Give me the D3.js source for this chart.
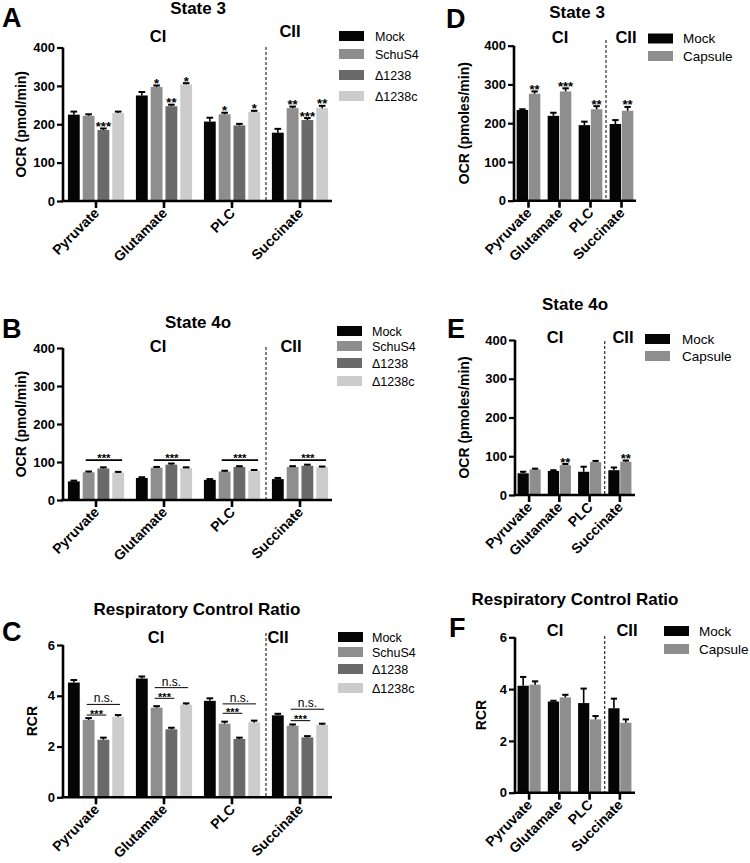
<!DOCTYPE html>
<html><head><meta charset="utf-8">
<script src="https://cdn.jsdelivr.net/npm/d3@7"></script>
<style>
body{margin:0;background:#fff}
svg{display:block}
text{font-family:"Liberation Sans",Arial,Helvetica,sans-serif}
</style>
</head><body>
<svg id="chart" width="750" height="863"></svg>
<script>
// ---------- data ----------
const categories = ["Pyruvate","Glutamate","PLC","Succinate"];
const seriesLeft = ["Mock","SchuS4","Δ1238","Δ1238c"];
const seriesRight = ["Mock","Capsule"];
const colorsLeft = ["#050505","#8e8e8e","#6a6a6a","#cccccc"];
const colorsRight = ["#050505","#8e8e8e"];
const ocrTicks = [0,100,200,300,400];
const rcrTicks = [0,2,4,6];

// A: State 3
const aMock = [225,275,207,178],   aMockErr = [8,9,10,10];
const aSchu = [222,297,226,242],   aSchuErr = [4,4,4,4];
const aD1238 = [185,247,197,211],  aD1238Err = [4,4,4,5];
const aD1238c = [229,304,232,242], aD1238cErr = [4,3,3,6];
const aSig = [["","","***",""],["","*","**","*"],["","*","","*"],["","**","***","**"]];

// B: State 4o
const bMock = [49,58,53,55],    bMockErr = [2,2,2,3];
const bSchu = [73,85,75,87],    bSchuErr = [2,2,2,2];
const bD1238 = [83,93,87,90],   bD1238Err = [3,3,2,3];
const bD1238c = [72,84,77,86],  bD1238cErr = [2,2,2,2];
const bBracketLevel = [105,105,105,105];
const bBracketLabel = ["***","***","***","***"];

// C: RCR
const cMock = [4.52,4.68,3.8,3.23],   cMockErr = [0.1,0.08,0.1,0.06];
const cSchu = [3.05,3.53,2.9,2.82],   cSchuErr = [0.07,0.06,0.08,0.05];
const cD1238 = [2.27,2.68,2.3,2.36],  cD1238Err = [0.08,0.06,0.05,0.05];
const cD1238c = [3.17,3.65,2.95,2.85],cD1238cErr = [0.07,0.05,0.07,0.05];
const cStarLevel = [3.24,3.9,3.31,3.02];
const cNsLevel = [3.66,4.32,3.68,3.47];

// D: State 3 capsule
const dMock = [234,219,195,198], dMockErr = [2,8,9,10];
const dCaps = [276,282,236,232], dCapsErr = [6,8,8,10];
const dSig = [["","**"],["","***"],["","**"],["","**"]];

// E: State 4o capsule
const eMock = [56,62,60,64], eMockErr = [4,2,13,7];
const eCaps = [66,77,85,86], eCapsErr = [2,3,3,3];
const eSig = [["",""],["","**"],["",""],["","**"]];

// F: RCR capsule
const fMock = [4.13,3.52,3.46,3.26], fMockErr = [0.34,0.03,0.56,0.37];
const fCaps = [4.17,3.68,2.83,2.7],  fCapsErr = [0.13,0.1,0.13,0.13];

// ---------- drawing ----------
const svg = d3.select("#chart");
const F = '"Liberation Sans",Arial,sans-serif';

function panel(o){
  const g = svg.append("g");
  const x0 = d3.scaleBand().domain(categories).range(o.xr).paddingInner(0).paddingOuter(0);
  const x1 = d3.scaleBand().domain(o.series).range([0, x0.bandwidth()]).paddingInner(o.pi).paddingOuter(o.po);
  const y = d3.scaleLinear().domain([0, o.max]).range([o.y0, o.yTop]);
  const bw = x1.bandwidth();
  const axX = o.xr[0] + 1;

  // bars
  o.series.forEach((s, si) => {
    const vals = o.values[si], errs = o.errs[si];
    const gs = g.append("g");
    gs.selectAll("rect").data(categories).join("rect")
      .attr("x", c => x0(c) + x1(s))
      .attr("y", (c,i) => y(vals[i]))
      .attr("width", bw)
      .attr("height", (c,i) => y(0) - y(vals[i]))
      .attr("fill", o.colors[si]);
    gs.selectAll("line.e").data(categories).join("line").attr("class","e")
      .attr("x1", c => x0(c) + x1(s) + bw/2).attr("x2", c => x0(c) + x1(s) + bw/2)
      .attr("y1", (c,i) => y(vals[i])).attr("y2", (c,i) => y(vals[i] + errs[i]))
      .attr("stroke", "#000").attr("stroke-width", 1.6);
    gs.selectAll("line.c").data(categories).join("line").attr("class","c")
      .attr("x1", c => x0(c) + x1(s) + bw*0.22).attr("x2", c => x0(c) + x1(s) + bw*0.78)
      .attr("y1", (c,i) => y(vals[i] + errs[i])).attr("y2", (c,i) => y(vals[i] + errs[i]))
      .attr("stroke", "#000").attr("stroke-width", 2);
    if (o.sig) {
      gs.selectAll("text.s").data(categories).join("text").attr("class","s")
        .attr("x", c => x0(c) + x1(s) + bw/2)
        .attr("y", (c,i) => y(vals[i] + errs[i]) + 2.5)
        .attr("text-anchor","middle").attr("font-size", 13).attr("font-weight","bold")
        .attr("font-family", F)
        .text((c,i) => o.sig[i][si]);
    }
  });

  // dashed separator
  const dx = x0("Succinate");
  g.append("line").attr("x1", dx).attr("x2", dx).attr("y1", o.dashTop).attr("y2", o.y0)
    .attr("stroke","#000").attr("stroke-width",1).attr("stroke-dasharray","3,2");

  // y axis
  const yAx = d3.axisLeft(y).tickValues(o.ticks).tickFormat(d3.format("d")).tickSize(6).tickPadding(2).tickSizeOuter(0);
  const ya = g.append("g").attr("transform", `translate(${axX},0)`).call(yAx);
  ya.select(".domain").attr("stroke-width", 2.6).attr("d", `M0,${o.yTop}V${o.y0}`);
  ya.selectAll(".tick line").attr("stroke-width", 2.2);
  ya.selectAll(".tick text").attr("font-size", 13).attr("font-weight","bold").attr("font-family",F).attr("fill","#000");

  // x axis
  const xAx = d3.axisBottom(x0).tickSize(7).tickSizeOuter(0).tickFormat("");
  const xa = g.append("g").attr("transform", `translate(0,${o.y0})`).call(xAx);
  xa.select(".domain").attr("stroke-width", 2.6).attr("d", `M${axX-1.3},0H${o.xEnd}`);
  xa.selectAll(".tick line").attr("stroke-width", 2.6);
  g.selectAll("text.xl").data(categories).join("text").attr("class","xl")
    .attr("transform", c => `translate(${x0(c)+x0.bandwidth()/2+4},${o.y0+13}) rotate(-45)`)
    .attr("text-anchor","end").attr("font-size", 14).attr("font-weight","bold").attr("font-family",F)
    .text(c => c);

  // y label
  g.append("text").attr("transform", `translate(${o.ylx},${(o.y0+o.yTop)/2}) rotate(-90)`)
    .attr("text-anchor","middle").attr("font-size", 14).attr("font-weight","bold").attr("font-family",F)
    .text(o.ylabel);

  // titles
  g.append("text").attr("x", o.title[1]).attr("y", o.title[2]).attr("text-anchor","middle")
    .attr("font-size", 17).attr("font-weight","bold").attr("font-family",F).text(o.title[0]);
  g.append("text").attr("x", o.letter[1]).attr("y", o.letter[2])
    .attr("font-size", 27).attr("font-weight","bold").attr("font-family",F).text(o.letter[0]);
  g.append("text").attr("x", o.ci[0]).attr("y", o.ci[1]).attr("text-anchor","middle")
    .attr("font-size", 16.5).attr("font-weight","bold").attr("font-family",F).text("CI");
  g.append("text").attr("x", o.cii[0]).attr("y", o.cii[1]).attr("text-anchor","middle")
    .attr("font-size", 16.5).attr("font-weight","bold").attr("font-family",F).text("CII");

  // legend
  const lg = g.append("g");
  o.series.forEach((s, si) => {
    const cy = o.leg.ys[si];
    lg.append("rect").attr("x", o.leg.x).attr("y", cy - 5).attr("width", 25).attr("height", 10).attr("fill", o.colors[si]);
    lg.append("text").attr("x", o.leg.tx).attr("y", cy + o.leg.fs*0.36)
      .attr("font-size", o.leg.fs).attr("font-family",F).text(s);
  });

  return {g, x0, x1, y, bw};
}

// Panel A
panel({xr:[62,334], xEnd:332, y0:201, yTop:47.5, max:400, ticks:ocrTicks, pi:0.2, po:0.4,
  series:seriesLeft, colors:colorsLeft,
  values:[aMock,aSchu,aD1238,aD1238c], errs:[aMockErr,aSchuErr,aD1238Err,aD1238cErr], sig:aSig,
  dashTop:47, ylx:26, ylabel:"OCR (pmol/min)",
  title:["State 3",198,14], letter:["A",2,27], ci:[158,42], cii:[290,37],
  leg:{x:339, tx:375, fs:12.5, ys:[36,54,75,96]}});

// Panel B
const pB = panel({xr:[62,334], xEnd:332, y0:500, yTop:348, max:400, ticks:ocrTicks, pi:0.2, po:0.4,
  series:seriesLeft, colors:colorsLeft,
  values:[bMock,bSchu,bD1238,bD1238c], errs:[bMockErr,bSchuErr,bD1238Err,bD1238cErr],
  dashTop:347, ylx:26, ylabel:"OCR (pmol/min)",
  title:["State 4o",198,328], letter:["B",2,338], ci:[158,352], cii:[291,352],
  leg:{x:337, tx:372, fs:12.5, ys:[331,346,363,381]}});
categories.forEach((c,i) => {
  const xa = pB.x0(c) + pB.x1("SchuS4") + 3, xb = pB.x0(c) + pB.x1("Δ1238c") + pB.bw - 2;
  const yy = pB.y(bBracketLevel[i]);
  pB.g.append("line").attr("x1",xa).attr("x2",xb).attr("y1",yy).attr("y2",yy).attr("stroke","#000").attr("stroke-width",1.6);
  pB.g.append("text").attr("x",(xa+xb)/2).attr("y",yy+2).attr("text-anchor","middle")
    .attr("font-size",11.5).attr("font-weight","bold").attr("font-family",F).text(bBracketLabel[i]);
});

// Panel C
const pC = panel({xr:[62,334], xEnd:332, y0:797.3, yTop:645, max:6, ticks:rcrTicks, pi:0.2, po:0.4,
  series:seriesLeft, colors:colorsLeft,
  values:[cMock,cSchu,cD1238,cD1238c], errs:[cMockErr,cSchuErr,cD1238Err,cD1238cErr],
  dashTop:633, ylx:37, ylabel:"RCR",
  title:["Respiratory Control Ratio",197,615], letter:["C",2,641], ci:[156,643], cii:[278,643],
  leg:{x:338, tx:372, fs:12.5, ys:[637,652,669,688]}});
categories.forEach((c,i) => {
  const xa = pC.x0(c) + pC.x1("SchuS4") + 4;
  const xs = pC.x0(c) + pC.x1("Δ1238") + pC.bw - 3;
  const xn = pC.x0(c) + pC.x1("Δ1238c") + pC.bw - 4;
  const ys = pC.y(cStarLevel[i]), yn = pC.y(cNsLevel[i]);
  pC.g.append("line").attr("x1",xa).attr("x2",xs).attr("y1",ys).attr("y2",ys).attr("stroke","#000").attr("stroke-width",1);
  pC.g.append("text").attr("x",(xa+xs)/2).attr("y",ys+2.5).attr("text-anchor","middle")
    .attr("font-size",11).attr("font-weight","bold").attr("font-family",F).text("***");
  pC.g.append("line").attr("x1",xa).attr("x2",xn).attr("y1",yn).attr("y2",yn).attr("stroke","#000").attr("stroke-width",1);
  pC.g.append("text").attr("x",(xa+xn)/2).attr("y",yn-2).attr("text-anchor","middle")
    .attr("font-size",12).attr("font-family",F).text("n.s.");
});

// Panel D
panel({xr:[513,637], xEnd:636, y0:200.7, yTop:45.7, max:400, ticks:ocrTicks, pi:0.06, po:0.3,
  series:seriesRight, colors:colorsRight,
  values:[dMock,dCaps], errs:[dMockErr,dCapsErr], sig:dSig,
  dashTop:40, ylx:469, ylabel:"OCR (pmoles/min)",
  title:["State 3",577,18], letter:["D",446,28], ci:[560,42.5], cii:[626,42.5],
  leg:{x:648, tx:683, fs:13.5, ys:[38.5,56]}});

// Panel E
panel({xr:[514,635], xEnd:635, y0:495, yTop:340, max:400, ticks:ocrTicks, pi:0.06, po:0.3,
  series:seriesRight, colors:colorsRight,
  values:[eMock,eCaps], errs:[eMockErr,eCapsErr], sig:eSig,
  dashTop:341, ylx:469, ylabel:"OCR (pmoles/min)",
  title:["State 4o",575,310], letter:["E",447,338], ci:[555,343], cii:[623,343],
  leg:{x:645, tx:682, fs:13.5, ys:[339,356]}});

// Panel F
panel({xr:[514,635], xEnd:635, y0:792.7, yTop:637.3, max:6, ticks:rcrTicks, pi:0.06, po:0.3,
  series:seriesRight, colors:colorsRight,
  values:[fMock,fCaps], errs:[fMockErr,fCapsErr],
  dashTop:636, ylx:486, ylabel:"RCR",
  title:["Respiratory Control Ratio",575,605], letter:["F",449,637], ci:[555,636], cii:[627,636],
  leg:{x:664, tx:699, fs:13.5, ys:[631,649]}});
</script>
</body></html>
